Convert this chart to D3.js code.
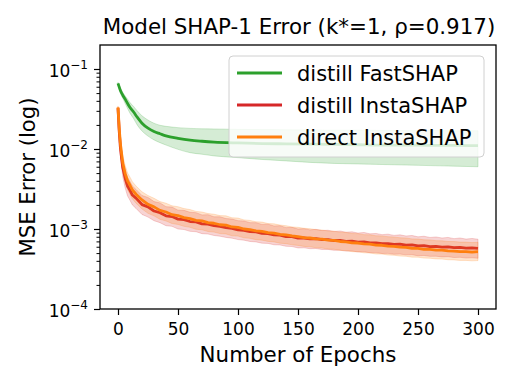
<!DOCTYPE html>
<html><head><meta charset="utf-8">
<script src="https://cdn.jsdelivr.net/npm/d3@7"></script>
<style>body{margin:0;background:#fff} text{font-family:"DejaVu Sans",sans-serif;fill:#000}</style>
</head><body><svg id="c" width="515" height="386"></svg>
<script>
// ---------- data ----------
const title = "Model SHAP-1 Error (k*=1, ρ=0.917)";
const xLabel = "Number of Epochs";
const yLabel = "MSE Error (log)";
const seriesNames = ["distill FastSHAP", "distill InstaSHAP", "direct InstaSHAP"];
const seriesColors = ["#2ca02c", "#d62728", "#ff7f0e"];
const xTicks = [0, 50, 100, 150, 200, 250, 300];
const yTicks = [1e-4, 1e-3, 1e-2, 1e-1];
const yTickExp = ["−4", "−3", "−2", "−1"];

// distill FastSHAP
const epochsG = [0,2,4,6,8,10,13,16,20,25,30,35,40,50,60,70,80,100,120,140,160,180,200,220,240,260,280,300];
const fastMean = [0.066,0.054,0.047,0.042,0.037,0.033,0.029,0.025,0.021,0.0182,0.0165,0.0155,0.0146,0.0136,0.0129,0.0125,0.0122,0.0119,0.0117,0.0116,0.0115,0.0114,0.0113,0.0112,0.0112,0.0111,0.0111,0.0110];
const fastHi = [0.068,0.058,0.051,0.046,0.042,0.038,0.034,0.030,0.026,0.023,0.021,0.0198,0.0192,0.0185,0.0181,0.0179,0.0178,0.0176,0.0175,0.0174,0.0173,0.0172,0.0172,0.0171,0.0170,0.0170,0.0169,0.0169];
const fastLo = [0.064,0.050,0.043,0.037,0.032,0.028,0.024,0.020,0.0168,0.0145,0.0130,0.0120,0.0112,0.0099,0.0090,0.0086,0.0082,0.0078,0.0074,0.0071,0.0068,0.0066,0.0065,0.0064,0.0063,0.0062,0.0061,0.0060];

// InstaSHAP runs
const epochsI = [0,1,2,3,4,6,8,10,12,15,
  20,25,30,35,40,45,50,55,60,65,
  70,75,80,85,90,95,100,105,110,115,
  120,125,130,135,140,145,150,155,160,165,
  170,175,180,185,190,195,200,205,210,215,
  220,225,230,235,240,245,250,255,260,265,
  270,275,280,285,290,295,300];
const distMean = [0.0324,0.0168,0.0104,0.00765,0.00582,0.00431,0.00342,0.00305,0.00266,0.00243,
  0.00202,0.00189,0.00168,0.00160,0.00146,0.00143,0.00133,0.00131,0.00124,0.00123,
  0.00116,0.00115,0.00110,0.00108,0.00104,0.00102,0.000978,0.000962,0.000925,0.000918,
  0.000882,0.000876,0.000843,0.000838,0.000805,0.000801,0.000770,0.000772,0.000752,0.000756,
  0.000735,0.000738,0.000718,0.000720,0.000702,0.000704,0.000686,0.000690,0.000670,0.000672,
  0.000655,0.000658,0.000642,0.000645,0.000630,0.000633,0.000614,0.000620,0.000603,0.000606,
  0.000594,0.000598,0.000584,0.000588,0.000576,0.000580,0.000572];
const distHi = [0.0336,0.0190,0.0125,0.00940,0.00730,0.00545,0.00440,0.00392,0.00345,0.00312,
  0.00262,0.00248,0.00220,0.00212,0.00190,0.00188,0.00172,0.00171,0.00162,0.00160,
  0.00150,0.00151,0.00142,0.00142,0.00135,0.00133,0.00127,0.00126,0.00120,0.00120,
  0.00114,0.00115,0.00109,0.00110,0.00104,0.00105,0.00100,0.00101,0.000975,0.000990,
  0.000955,0.000965,0.000930,0.000945,0.000912,0.000922,0.000890,0.000905,0.000870,0.000880,
  0.000850,0.000862,0.000832,0.000845,0.000818,0.000830,0.000798,0.000812,0.000784,0.000795,
  0.000772,0.000785,0.000758,0.000772,0.000748,0.000762,0.000745];
const distLo = [0.0310,0.0148,0.0086,0.00600,0.00448,0.00325,0.00258,0.00228,0.00200,0.00181,
  0.00152,0.00141,0.00127,0.00120,0.00110,0.00108,0.00100,0.000985,0.000935,0.000925,
  0.000875,0.000865,0.000830,0.000812,0.000785,0.000768,0.000738,0.000725,0.000698,0.000690,
  0.000665,0.000660,0.000635,0.000632,0.000608,0.000604,0.000580,0.000582,0.000567,0.000570,
  0.000554,0.000556,0.000541,0.000543,0.000529,0.000531,0.000517,0.000520,0.000505,0.000507,
  0.000494,0.000496,0.000484,0.000486,0.000475,0.000477,0.000463,0.000467,0.000455,0.000457,
  0.000448,0.000451,0.000440,0.000443,0.000434,0.000437,0.000431];
const directMean = [0.0332,0.0182,0.0117,0.00868,0.00664,0.00492,0.00398,0.00352,0.00308,0.00272,
  0.00231,0.00203,0.00189,0.00171,0.00163,0.00151,0.00147,0.00139,0.00135,0.00128,
  0.00126,0.00120,0.00118,0.00113,0.00112,0.00106,0.00105,0.00100,0.000985,0.000948,
  0.000936,0.000902,0.000890,0.000858,0.000846,0.000818,0.000804,0.000781,0.000772,0.000752,
  0.000745,0.000724,0.000719,0.000698,0.000692,0.000672,0.000668,0.000650,0.000646,0.000628,
  0.000626,0.000610,0.000606,0.000592,0.000588,0.000574,0.000572,0.000558,0.000556,0.000545,
  0.000543,0.000532,0.000530,0.000522,0.000522,0.000515,0.000520];
const directHi = [0.0345,0.0206,0.0141,0.0107,0.0083,0.0062,0.0050,0.00445,0.00390,0.00345,
  0.00292,0.00262,0.00242,0.00220,0.00210,0.00195,0.00190,0.00180,0.00175,0.00166,
  0.00163,0.00156,0.00153,0.00147,0.00146,0.00138,0.00137,0.00130,0.00128,0.00123,
  0.00122,0.00117,0.00116,0.00112,0.00110,0.00106,0.00105,0.00102,0.00101,0.000980,
  0.000972,0.000945,0.000940,0.000912,0.000905,0.000878,0.000875,0.000850,0.000846,0.000822,
  0.000820,0.000800,0.000795,0.000776,0.000772,0.000752,0.000750,0.000732,0.000730,0.000715,
  0.000712,0.000698,0.000696,0.000686,0.000686,0.000676,0.000682];
const directLo = [0.0318,0.0160,0.0097,0.00700,0.00530,0.00385,0.00310,0.00272,0.00238,0.00210,
  0.00178,0.00157,0.00146,0.00132,0.00126,0.00117,0.00114,0.00108,0.00105,0.000992,
  0.000978,0.000930,0.000915,0.000876,0.000868,0.000822,0.000815,0.000776,0.000764,0.000735,
  0.000726,0.000700,0.000690,0.000665,0.000656,0.000634,0.000624,0.000606,0.000599,0.000583,
  0.000578,0.000562,0.000558,0.000541,0.000537,0.000521,0.000518,0.000504,0.000501,0.000487,
  0.000486,0.000473,0.000470,0.000459,0.000456,0.000445,0.000444,0.000433,0.000431,0.000423,
  0.000421,0.000413,0.000411,0.000405,0.000405,0.000400,0.000403];

// ---------- chart ----------
const svg = d3.select("#c");
const L = 100, R = 496, T = 45, B = 309;
const x = d3.scaleLinear().domain([-15, 315]).range([L, R]);
const y = d3.scaleLog().domain([1e-4, Math.pow(10, -0.7)]).range([B, T]);

const series = [
  {ep: epochsG, m: fastMean, lo: fastLo, hi: fastHi, curve: d3.curveMonotoneX},
  {ep: epochsI, m: distMean, lo: distLo, hi: distHi, curve: d3.curveLinear},
  {ep: epochsI, m: directMean, lo: directLo, hi: directHi, curve: d3.curveLinear}
];

const plot = svg.append("g");
series.forEach((s, i) => {
  const pts = s.ep.map((e, k) => ({e, m: s.m[k], lo: s.lo[k], hi: s.hi[k]}));
  const area = d3.area().x(d => x(d.e)).y0(d => y(d.lo)).y1(d => y(d.hi)).curve(s.curve);
  const line = d3.line().x(d => x(d.e)).y(d => y(d.m)).curve(s.curve);
  plot.append("path").attr("d", area(pts)).attr("fill", seriesColors[i]).attr("fill-opacity", 0.2)
    .attr("stroke", seriesColors[i]).attr("stroke-opacity", 0.2).attr("stroke-width", 1);
  plot.append("path").attr("d", line(pts)).attr("fill", "none").attr("stroke", seriesColors[i])
    .attr("stroke-width", 2.8).attr("stroke-linejoin", "round");
});

// axes
const xAxis = svg.append("g").attr("transform", `translate(0,${B})`)
  .call(d3.axisBottom(x).tickValues(xTicks).tickSize(6).tickPadding(8).tickFormat(d3.format("d")));
xAxis.select(".domain").remove();
xAxis.selectAll("line").attr("stroke", "#000").attr("stroke-width", 1.2);
xAxis.selectAll("text").attr("font-size", 17).attr("font-family", "DejaVu Sans");

const minor = [];
for (let k = -4; k <= -1; k++) for (let j = 2; j <= 9; j++) { const v = j * Math.pow(10, k); if (v <= Math.pow(10, -0.7) + 1e-9) minor.push(v); }
const yMinor = svg.append("g").attr("transform", `translate(${L},0)`)
  .call(d3.axisLeft(y).tickValues(minor).tickSize(3.5).tickFormat(""));
yMinor.select(".domain").remove();
yMinor.selectAll("line").attr("stroke", "#000").attr("stroke-width", 1);

const yAxis = svg.append("g").attr("transform", `translate(${L},0)`)
  .call(d3.axisLeft(y).tickValues(yTicks).tickSize(6).tickPadding(6).tickFormat(""));
yAxis.select(".domain").remove();
yAxis.selectAll("line").attr("stroke", "#000").attr("stroke-width", 1.2);
yAxis.selectAll(".tick").each(function(d, i) {
  const t = d3.select(this).select("text").attr("font-size", 17).attr("font-family", "DejaVu Sans")
    .attr("dy", null).attr("y", 7.5).attr("x", -12);
  t.append("tspan").text("10");
  t.append("tspan").attr("font-size", 12).attr("dy", -8).text(yTickExp[i]);
});

// frame
svg.append("rect").attr("x", L).attr("y", T).attr("width", R - L).attr("height", B - T)
  .attr("fill", "none").attr("stroke", "#000").attr("stroke-width", 1.3);

// labels
svg.append("text").attr("x", 299).attr("y", 34).attr("text-anchor", "middle")
  .attr("font-size", 21.4).text(title);
svg.append("text").attr("x", 298).attr("y", 362).attr("text-anchor", "middle")
  .attr("font-size", 21.4).text(xLabel);
svg.append("text").attr("transform", `translate(35,${(T + B) / 2}) rotate(-90)`).attr("text-anchor", "middle")
  .attr("font-size", 21.2).text(yLabel);

// legend
const lg = svg.append("g");
lg.append("rect").attr("x", 229).attr("y", 56).attr("width", 255).attr("height", 101).attr("rx", 4)
  .attr("fill", "#fff").attr("fill-opacity", 0.8).attr("stroke", "#d0d0d0").attr("stroke-width", 1);
seriesNames.forEach((n, i) => {
  const cy = 73 + i * 32;
  lg.append("line").attr("x1", 237).attr("x2", 282).attr("y1", cy).attr("y2", cy)
    .attr("stroke", seriesColors[i]).attr("stroke-width", 2.8);
  lg.append("text").attr("x", 297).attr("y", cy + 7.5).attr("font-size", 21).text(n);
});
</script></body></html>
